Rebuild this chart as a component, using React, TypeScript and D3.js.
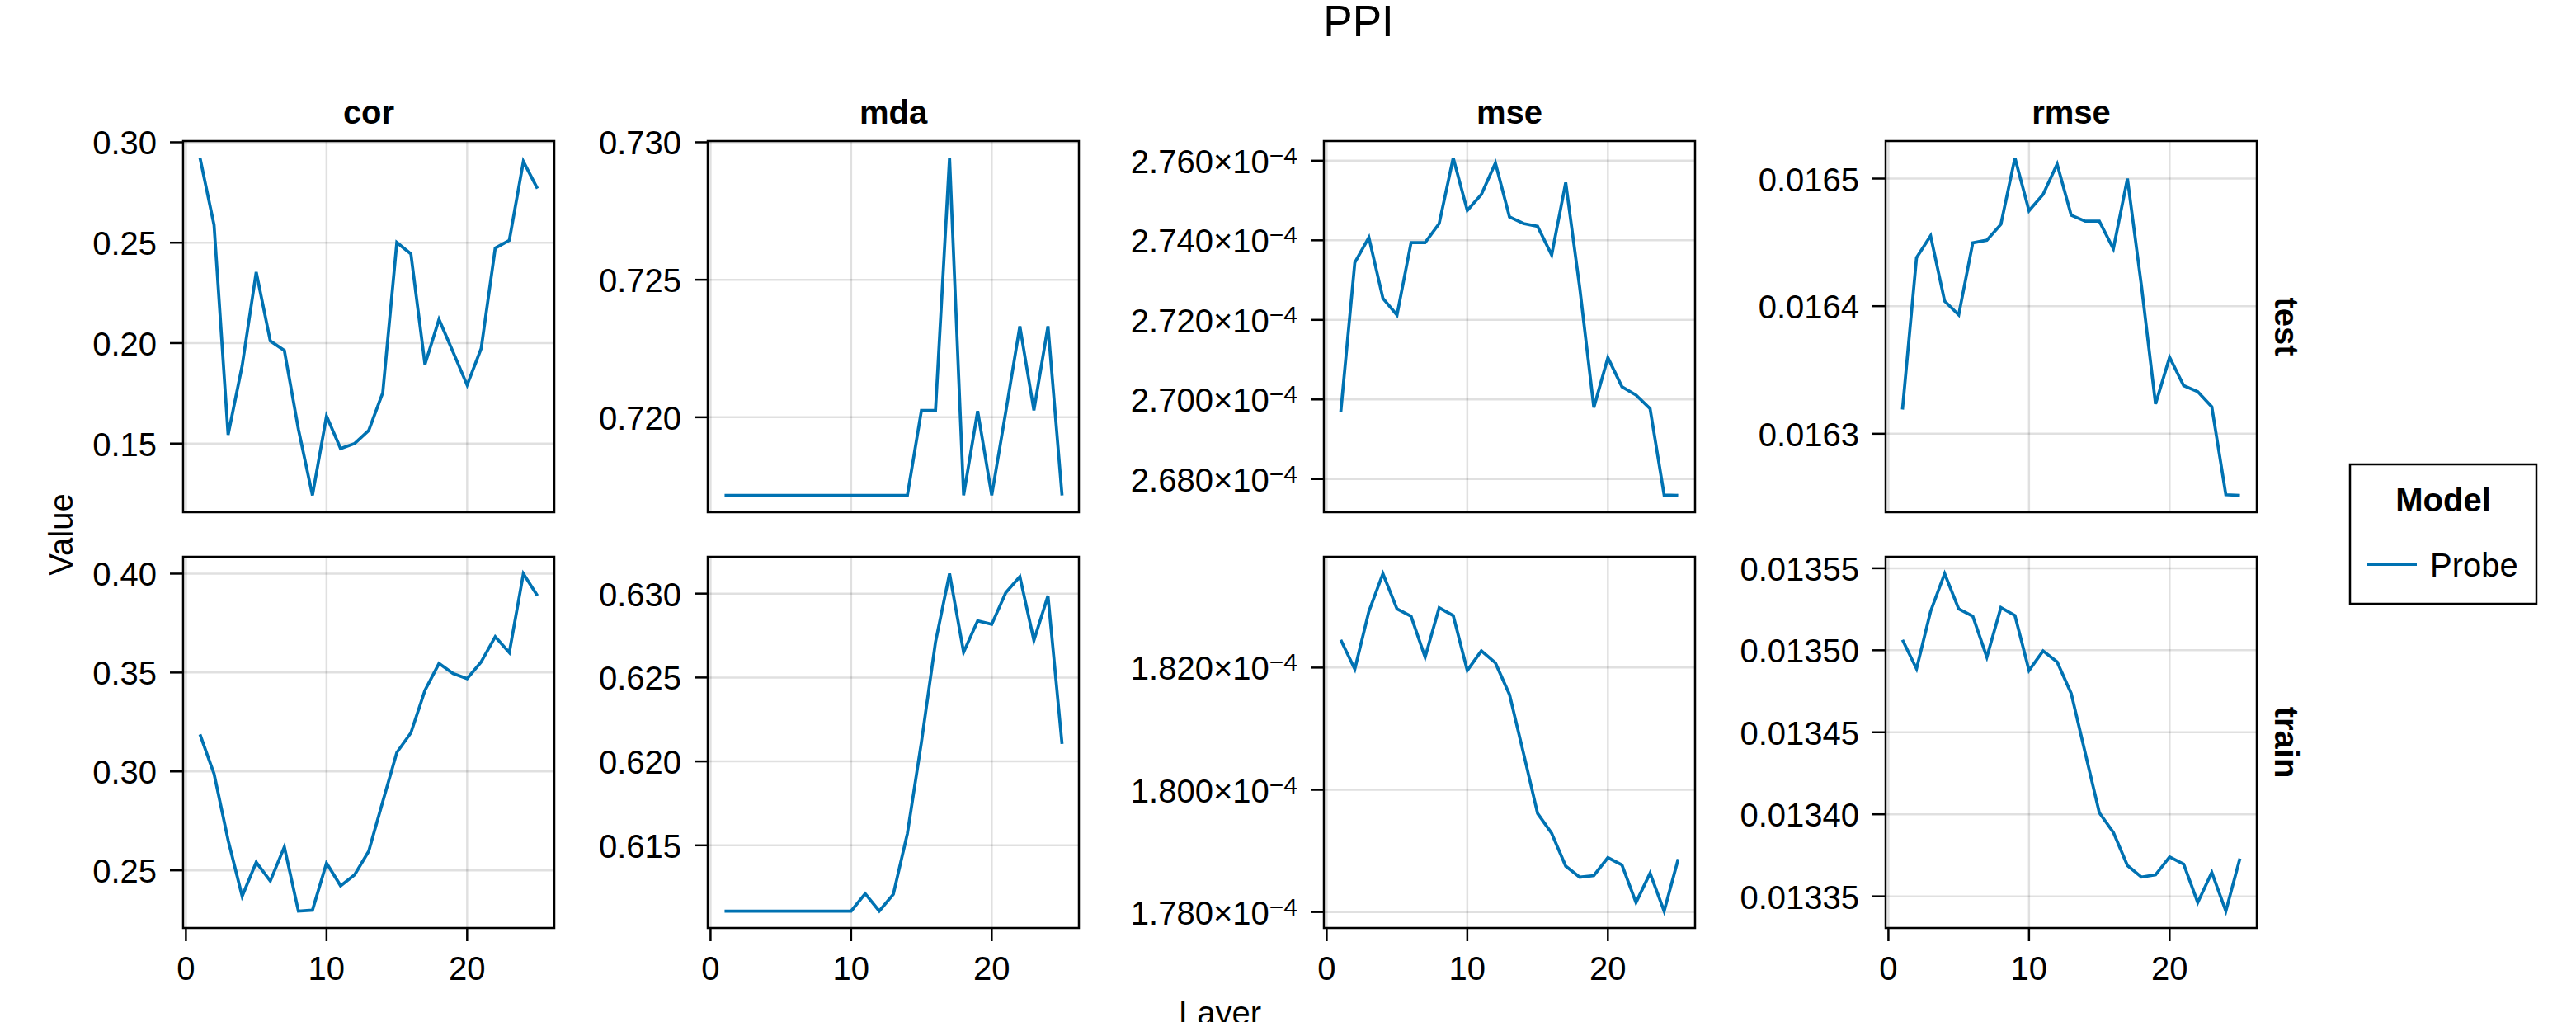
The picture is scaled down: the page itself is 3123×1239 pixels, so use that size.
import React, { useEffect } from "react";
import * as d3 from "d3";

// ---------------- data ----------------
const layers = [1, 2, 3, 4, 5, 6, 7, 8, 9, 10, 11, 12, 13, 14, 15, 16, 17, 18, 19, 20, 21, 22, 23, 24, 25];
const metrics = ["cor", "mda", "mse", "rmse"];
const splits = ["test", "train"];

const corTest = [0.2922, 0.2588, 0.1544, 0.1887, 0.2354, 0.2011, 0.1963, 0.1571, 0.1242, 0.1637, 0.1475, 0.15, 0.1565, 0.1753, 0.2501, 0.2444, 0.1894, 0.2118, 0.1956, 0.1791, 0.1973, 0.2473, 0.2512, 0.2904, 0.2769];
const mdaTest = [0.71716, 0.71716, 0.71716, 0.71716, 0.71716, 0.71716, 0.71716, 0.71716, 0.71716, 0.71716, 0.71716, 0.71716, 0.71716, 0.71716, 0.72025, 0.72025, 0.72943, 0.71716, 0.72023, 0.71716, 0.7202, 0.72331, 0.72025, 0.72331, 0.71716];
const mseTest = [2.6968e-4, 2.7344e-4, 2.7407e-4, 2.7254e-4, 2.7212e-4, 2.7394e-4, 2.7394e-4, 2.7442e-4, 2.7607e-4, 2.7475e-4, 2.7515e-4, 2.7594e-4, 2.7459e-4, 2.7442e-4, 2.7435e-4, 2.7363e-4, 2.7545e-4, 2.728e-4, 2.698e-4, 2.7105e-4, 2.7032e-4, 2.7011e-4, 2.6977e-4, 2.676e-4, 2.6759e-4];
const rmseTest = [0.016319, 0.016438, 0.0164552, 0.0164039, 0.0163931, 0.0164496, 0.0164517, 0.0164642, 0.0165162, 0.0164748, 0.0164875, 0.0165114, 0.0164713, 0.0164666, 0.0164666, 0.016445, 0.0165, 0.0164157, 0.0163233, 0.0163599, 0.0163377, 0.016333, 0.0163211, 0.0162522, 0.0162517];

const corTrain = [0.3187, 0.2988, 0.2653, 0.2369, 0.2541, 0.2446, 0.2618, 0.2294, 0.2299, 0.2537, 0.2422, 0.2478, 0.2597, 0.2848, 0.3096, 0.3195, 0.341, 0.3546, 0.3495, 0.3469, 0.3554, 0.3681, 0.3601, 0.4, 0.3888];
const mdaTrain = [0.61108, 0.61108, 0.61108, 0.61108, 0.61108, 0.61108, 0.61108, 0.61108, 0.61108, 0.61108, 0.61212, 0.61108, 0.61208, 0.6157, 0.62115, 0.62711, 0.63119, 0.62651, 0.62838, 0.62817, 0.63006, 0.63102, 0.62721, 0.62987, 0.62104];
const mseTrain = [1.82454e-4, 1.81974e-4, 1.82919e-4, 1.83538e-4, 1.8296e-4, 1.82841e-4, 1.8217e-4, 1.8298e-4, 1.82852e-4, 1.81954e-4, 1.82274e-4, 1.82077e-4, 1.81561e-4, 1.80596e-4, 1.79613e-4, 1.79288e-4, 1.78751e-4, 1.7857e-4, 1.78596e-4, 1.7889e-4, 1.78772e-4, 1.78155e-4, 1.78635e-4, 1.78015e-4, 1.78867e-4];
const rmseTrain = [0.0135063, 0.0134887, 0.0135237, 0.0135467, 0.0135252, 0.0135208, 0.0134958, 0.013526, 0.0135212, 0.0134877, 0.0134996, 0.0134929, 0.0134737, 0.0134373, 0.013401, 0.013389, 0.0133688, 0.0133617, 0.0133631, 0.013374, 0.0133696, 0.0133462, 0.0133646, 0.013341, 0.0133731];

// tick values and labels
const xTicks = [0, 10, 20];
const xTickLabels = ["0", "10", "20"];

const corTestTicks = [0.15, 0.2, 0.25, 0.3];
const corTestLabels = ["0.15", "0.20", "0.25", "0.30"];
const mdaTestTicks = [0.72, 0.725, 0.73];
const mdaTestLabels = ["0.720", "0.725", "0.730"];
const mseTestTicks = [2.68e-4, 2.7e-4, 2.72e-4, 2.74e-4, 2.76e-4];
const mseTestLabels = ["2.680", "2.700", "2.720", "2.740", "2.760"];
const rmseTestTicks = [0.0163, 0.0164, 0.0165];
const rmseTestLabels = ["0.0163", "0.0164", "0.0165"];

const corTrainTicks = [0.25, 0.3, 0.35, 0.4];
const corTrainLabels = ["0.25", "0.30", "0.35", "0.40"];
const mdaTrainTicks = [0.615, 0.62, 0.625, 0.63];
const mdaTrainLabels = ["0.615", "0.620", "0.625", "0.630"];
const mseTrainTicks = [1.78e-4, 1.8e-4, 1.82e-4];
const mseTrainLabels = ["1.780", "1.800", "1.820"];
const rmseTrainTicks = [0.01335, 0.0134, 0.01345, 0.0135, 0.01355];
const rmseTrainLabels = ["0.01335", "0.01340", "0.01345", "0.01350", "0.01355"];

const sciExponent = "−4";
const title = "PPI";
const xLabel = "Layer";
const yLabel = "Value";
const legendTitle = "Model";
const seriesName = "Probe";

// ---------------- layout / style ----------------
const W = 3123;
const H = 1239;
const colX = [222, 858, 1605, 2286];
const rowY = [171, 675];
const PW = 450;
const PH = 450;
const LINE_COLOR = "#0072b2";
const GRID = "rgba(0,0,0,0.12)";
const FONT = "'Liberation Sans', Arial, Helvetica, sans-serif";
const FS = 40;

type Panel = {
  metric: string;
  split: string;
  values: number[];
  ticks: number[];
  labels: string[];
  sci: boolean;
};

const panels: Panel[] = [
  { metric: "cor", split: "test", values: corTest, ticks: corTestTicks, labels: corTestLabels, sci: false },
  { metric: "mda", split: "test", values: mdaTest, ticks: mdaTestTicks, labels: mdaTestLabels, sci: false },
  { metric: "mse", split: "test", values: mseTest, ticks: mseTestTicks, labels: mseTestLabels, sci: true },
  { metric: "rmse", split: "test", values: rmseTest, ticks: rmseTestTicks, labels: rmseTestLabels, sci: false },
  { metric: "cor", split: "train", values: corTrain, ticks: corTrainTicks, labels: corTrainLabels, sci: false },
  { metric: "mda", split: "train", values: mdaTrain, ticks: mdaTrainTicks, labels: mdaTrainLabels, sci: false },
  { metric: "mse", split: "train", values: mseTrain, ticks: mseTrainTicks, labels: mseTrainLabels, sci: true },
  { metric: "rmse", split: "train", values: rmseTrain, ticks: rmseTrainTicks, labels: rmseTrainLabels, sci: false },
];

function padded(vals: number[]): [number, number] {
  const [a, b] = d3.extent(vals) as [number, number];
  const p = (b - a) * 0.05;
  return [a - p, b + p];
}

function PanelView({ p }: { p: Panel }) {
  const ci = metrics.indexOf(p.metric);
  const ri = splits.indexOf(p.split);
  const x0 = colX[ci];
  const y0 = rowY[ri];
  const x = d3.scaleLinear().domain(padded(layers)).range([x0, x0 + PW]);
  const y = d3.scaleLinear().domain(padded(p.values)).range([y0 + PH, y0]);
  const line = d3
    .line<number>()
    .x((_, i) => x(layers[i]))
    .y((d) => y(d));
  const isBottom = ri === splits.length - 1;
  return (
    <g>
      {/* grid */}
      {xTicks.map((t) => (
        <line key={"gx" + t} x1={x(t)} x2={x(t)} y1={y0} y2={y0 + PH} stroke={GRID} strokeWidth={2.5} />
      ))}
      {p.ticks.map((t) => (
        <line key={"gy" + t} x1={x0} x2={x0 + PW} y1={y(t)} y2={y(t)} stroke={GRID} strokeWidth={2.5} />
      ))}
      {/* series */}
      <path d={line(p.values) || ""} fill="none" stroke={LINE_COLOR} strokeWidth={3.75} strokeLinejoin="miter" />
      {/* frame */}
      <rect x={x0} y={y0} width={PW} height={PH} fill="none" stroke="#000" strokeWidth={2.5} />
      {/* y ticks */}
      {p.ticks.map((t, i) => (
        <g key={"ty" + t}>
          <line x1={x0 - 16} x2={x0} y1={y(t)} y2={y(t)} stroke="#000" strokeWidth={2.5} />
          <text x={x0 - 32} y={y(t) + 15} textAnchor="end" fontSize={FS} fontFamily={FONT} fill="#000">
            {p.sci ? (
              <>
                <tspan>{p.labels[i]}</tspan>
                <tspan>×</tspan>
                <tspan>10</tspan>
                <tspan fontSize={30} dy={-11}>{sciExponent}</tspan>
              </>
            ) : (
              p.labels[i]
            )}
          </text>
        </g>
      ))}
      {/* x ticks */}
      {isBottom &&
        xTicks.map((t, i) => (
          <g key={"tx" + t}>
            <line x1={x(t)} x2={x(t)} y1={y0 + PH} y2={y0 + PH + 16} stroke="#000" strokeWidth={2.5} />
            <text x={x(t)} y={y0 + PH + 63} textAnchor="middle" fontSize={FS} fontFamily={FONT} fill="#000">
              {xTickLabels[i]}
            </text>
          </g>
        ))}
      {/* column title */}
      {ri === 0 && (
        <text x={x0 + PW / 2} y={y0 - 21} textAnchor="middle" fontSize={FS} fontWeight="bold" fontFamily={FONT} fill="#000">
          {p.metric}
        </text>
      )}
      {/* row label */}
      {ci === metrics.length - 1 && (
        <text
          transform={`translate(${x0 + PW + 22},${y0 + PH / 2}) rotate(90)`}
          textAnchor="middle"
          fontSize={FS}
          fontWeight="bold"
          fontFamily={FONT}
          fill="#000"
        >
          {p.split}
        </text>
      )}
    </g>
  );
}

export default function App() {
  useEffect(() => {
    document.body.style.margin = "0";
  }, []);
  const gridLeft = colX[0];
  const gridRight = colX[colX.length - 1] + PW;
  const gridTop = rowY[0];
  const gridBottom = rowY[rowY.length - 1] + PH;
  return (
    <svg
      width={W}
      height={H}
      viewBox={`0 0 ${W} ${H}`}
      style={{ position: "absolute", left: 0, top: 0, background: "#fff" }}
    >
      <rect x={0} y={0} width={W} height={H} fill="#fff" />
      <text x={1647} y={44} textAnchor="middle" fontSize={53} fontFamily={FONT} fill="#000">
        {title}
      </text>
      {panels.map((p) => (
        <PanelView key={p.metric + p.split} p={p} />
      ))}
      <text x={(gridLeft + gridRight) / 2} y={1242} textAnchor="middle" fontSize={FS} fontFamily={FONT} fill="#000">
        {xLabel}
      </text>
      <text
        transform={`translate(88,${(gridTop + gridBottom) / 2}) rotate(-90)`}
        textAnchor="middle"
        fontSize={FS}
        fontFamily={FONT}
        fill="#000"
      >
        {yLabel}
      </text>
      {/* legend */}
      <g>
        <rect x={2849} y={563} width={226} height={169} fill="#fff" stroke="#000" strokeWidth={2.5} />
        <text x={2962} y={620} textAnchor="middle" fontSize={FS} fontWeight="bold" fontFamily={FONT} fill="#000">
          {legendTitle}
        </text>
        <line x1={2870} x2={2930} y1={684} y2={684} stroke={LINE_COLOR} strokeWidth={4} />
        <text x={2946} y={699} fontSize={FS} fontFamily={FONT} fill="#000">
          {seriesName}
        </text>
      </g>
    </svg>
  );
}
